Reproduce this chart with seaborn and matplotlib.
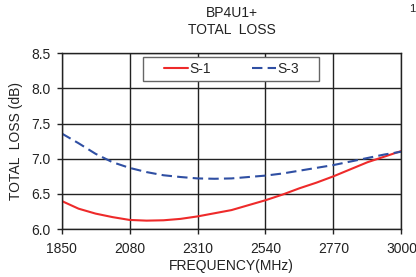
import numpy as np
import pandas as pd
import matplotlib
matplotlib.use("Agg")
import matplotlib.pyplot as plt
from matplotlib.patches import Rectangle
import seaborn as sns

freq = [1850, 1907.5, 1965, 2022.5, 2080, 2137.5, 2195, 2252.5, 2310, 2367.5, 2425,
        2482.5, 2540, 2597.5, 2655, 2712.5, 2770, 2827.5, 2885, 2942.5, 3000]
s1 = [6.40, 6.29, 6.22, 6.17, 6.13, 6.12, 6.125, 6.145, 6.18, 6.225, 6.27,
      6.34, 6.41, 6.49, 6.58, 6.66, 6.75, 6.85, 6.95, 7.03, 7.11]
s3 = [7.36, 7.22, 7.07, 6.95, 6.87, 6.81, 6.765, 6.74, 6.72, 6.715, 6.72,
      6.74, 6.76, 6.79, 6.83, 6.87, 6.91, 6.96, 7.01, 7.06, 7.10]
series = ["S-1", "S-3"]
x_ticks = [1850, 2080, 2310, 2540, 2770, 3000]
y_ticks = [6.0, 6.5, 7.0, 7.5, 8.0, 8.5]

sns.set_theme(style="white")
plt.rcParams["font.family"] = ["Liberation Sans", "DejaVu Sans"]

df = pd.DataFrame({
    "freq": freq * 2,
    "loss": s1 + s3,
    "series": [series[0]] * len(freq) + [series[1]] * len(freq),
})

fig = plt.figure(figsize=(4.16, 2.77), dpi=100)
ax = fig.add_axes([0.148, 0.173, 0.817, 0.635])

sns.lineplot(data=df, x="freq", y="loss", hue="series", style="series",
             palette={"S-1": "#ee2a2a", "S-3": "#2f4fa3"},
             dashes={"S-1": "", "S-3": (5, 2.5)}, linewidth=1.5, ax=ax)

ax.set_xlim(1850, 3000)
ax.set_ylim(6.0, 8.5)
ax.set_xticks(x_ticks)
ax.set_yticks(y_ticks)
ax.set_yticklabels([f"{v:.1f}" for v in y_ticks])
ax.grid(True, color="#222222", linewidth=1.0)
for s in ax.spines.values():
    s.set_color("#222222")
    s.set_linewidth(1.0)
ax.tick_params(axis="both", labelsize=10, colors="#222222", direction="out",
               length=3.5, width=1.0, bottom=True, left=True)
ax.tick_params(axis="x", pad=6)
ax.tick_params(axis="y", pad=4.5)

ax.set_xlabel("FREQUENCY(MHz)", fontsize=10, color="#222222", labelpad=2)
ax.set_ylabel("TOTAL  LOSS (dB)", fontsize=10, color="#222222", labelpad=6)
ax.set_title("BP4U1+\nTOTAL  LOSS", fontsize=10, color="#222222", pad=14,
             linespacing=1.25)

ax.add_patch(Rectangle((0.2396, 0.844), 0.5184, 0.133, transform=ax.transAxes,
                       facecolor="white", edgecolor="#666666", linewidth=1.0,
                       zorder=4))
leg = ax.legend(loc="center", bbox_to_anchor=(0.5, 0.911), ncol=2,
                frameon=False, fontsize=10, handlelength=1.7,
                handletextpad=0.1, columnspacing=3.0, borderpad=0.0,
                title=None)
leg.set_zorder(5)

fig.text(0.99, 0.985, "1", fontsize=8, color="#222222", ha="center", va="top")

plt.savefig("out.png", dpi=100)
plt.close()
